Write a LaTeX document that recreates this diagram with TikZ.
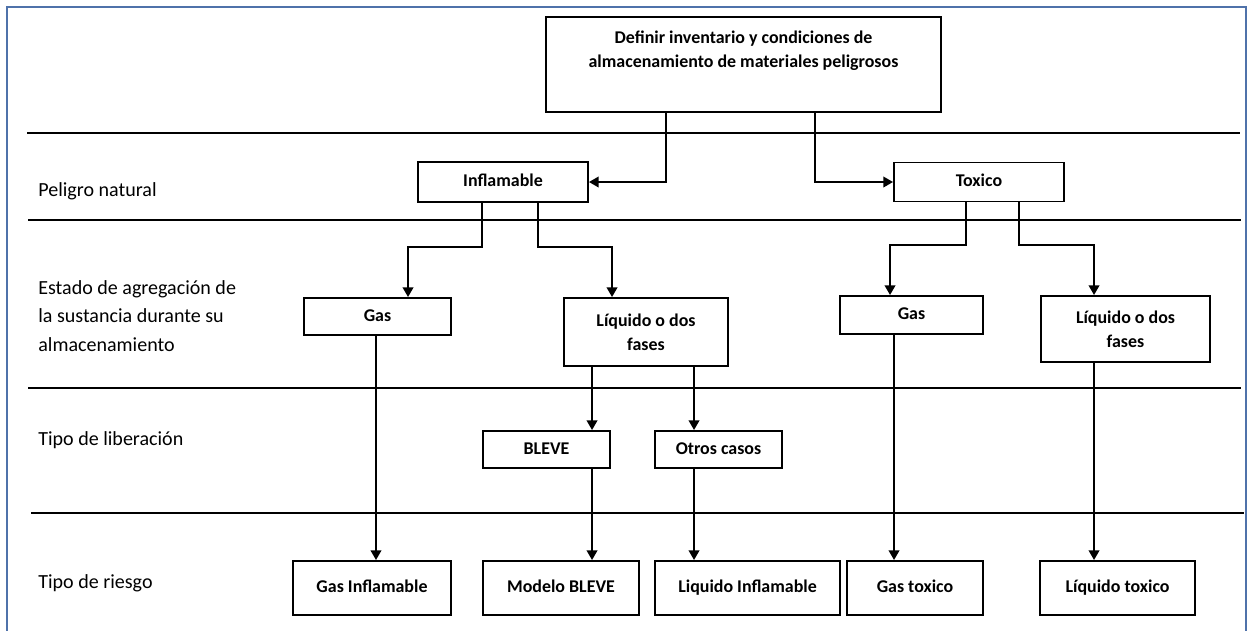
\documentclass[tikz,border=0pt]{standalone}
\usepackage{fontspec}
\setmainfont{Carlito}
\usetikzlibrary{arrows.meta}
\definecolor{marco}{RGB}{79,114,170}

\begin{document}
\begin{tikzpicture}[>={Triangle[length=5.5pt,width=6pt]},
    caja/.style={draw, line width=1.1pt, inner sep=1pt, align=center,
      font=\fontsize{10.2}{13.6}\selectfont\bfseries},
    linea/.style={text height=1.6ex, text depth=0.5ex},
    flecha/.style={->, line width=1.1pt},
    franja/.style={line width=1.1pt},
    etiqueta/.style={anchor=west, align=left, inner sep=0pt,
      font=\fontsize{11.4}{16.2}\selectfont}]
    \useasboundingbox (0,0) rectangle (24.94,-12.6);

    % Marco
    \draw[marco, line width=1.1pt] (0.14,-13) -- (0.14,-0.14) -- (24.92,-0.14) -- (24.92,-13);

    % Franjas
    \draw[franja] (0.54,-2.66) -- (24.80,-2.66);
    \draw[franja] (0.56,-4.40) -- (24.82,-4.40);
    \draw[franja] (0.56,-7.76) -- (24.82,-7.76);
    \draw[franja] (0.62,-10.26) -- (24.88,-10.26);

    % Etiquetas de fila
    \node[etiqueta] (peligro) at (0.76,-3.82) {Peligro natural};
    \node[etiqueta] (estado) at (0.76,-6.32) {Estado de agregación de\\la sustancia durante su\\almacenamiento};
    \node[etiqueta] (liberacion) at (0.76,-8.80) {Tipo de liberación};
    \node[etiqueta] (riesgo) at (0.76,-11.66) {Tipo de riesgo};

    % Cajas
    \node[caja, minimum width=7.9cm, minimum height=1.9cm] (inv) at (14.87,-1.29)
      {Definir inventario y condiciones de\\almacenamiento de materiales peligrosos\\\strut};
    \node[caja, linea, minimum width=3.4cm, minimum height=0.8cm] (infl) at (10.06,-3.64) {Inflamable};
    \node[caja, linea, minimum width=3.4cm, minimum height=0.78cm] (tox) at (19.58,-3.64) {Toxico};
    \node[caja, linea, minimum width=2.94cm, minimum height=0.74cm] (gas1) at (7.55,-6.33) {Gas};
    \node[caja, minimum width=3.28cm, minimum height=1.36cm] (liq1) at (12.92,-6.64) {Líquido o dos\\fases};
    \node[caja, linea, minimum width=2.86cm, minimum height=0.76cm] (gas2) at (18.23,-6.30) {Gas};
    \node[caja, minimum width=3.38cm, minimum height=1.32cm] (liq2) at (22.51,-6.58) {Líquido o dos\\fases};
    \node[caja, linea, minimum width=2.54cm, minimum height=0.74cm] (bleve) at (10.93,-8.99) {BLEVE};
    \node[caja, linea, minimum width=2.54cm, minimum height=0.74cm] (otros) at (14.37,-8.99) {Otros casos};
    \node[caja, linea, minimum width=3.16cm, minimum height=1.08cm] (gasinf) at (7.44,-11.76) {Gas Inflamable};
    \node[caja, linea, minimum width=3.12cm, minimum height=1.08cm] (modb) at (11.22,-11.76) {Modelo BLEVE};
    \node[caja, linea, minimum width=3.70cm, minimum height=1.08cm] (liqinf) at (14.95,-11.76) {Liquido Inflamable};
    \node[caja, linea, minimum width=2.72cm, minimum height=1.08cm] (gastox) at (18.30,-11.76) {Gas toxico};
    \node[caja, linea, minimum width=3.10cm, minimum height=1.08cm] (liqtox) at (22.35,-11.76) {Líquido toxico};

    % Conectores
    \draw[flecha] ([xshift=2.42cm]inv.south west) |- (infl.east);
    \draw[flecha] ([xshift=5.40cm]inv.south west) |- (tox.west);
    \draw[flecha] ([xshift=1.30cm]infl.south west) -- ++(0,-0.88) -| ([xshift=2.10cm]gas1.north west);
    \draw[flecha] ([xshift=2.42cm]infl.south west) -- ++(0,-0.88) -| ([xshift=0.98cm]liq1.north west);
    \draw[flecha] ([xshift=1.46cm]tox.south west) -- ++(0,-0.85) -| ([xshift=1.02cm]gas2.north west);
    \draw[flecha] ([xshift=2.52cm]tox.south west) -- ++(0,-0.85) -| ([xshift=1.08cm]liq2.north west);
    \draw[flecha] ([xshift=-0.03cm]gas1.south) coordinate (g1) -- (g1 |- gasinf.north);
    \draw[flecha] ([xshift=0.58cm]liq1.south west) coordinate (l1a) -- (l1a |- bleve.north);
    \draw[flecha] ([xshift=2.62cm]liq1.south west) coordinate (l1b) -- (l1b |- otros.north);
    \draw[flecha] ([xshift=2.20cm]bleve.south west) coordinate (bl) -- (bl |- modb.north);
    \draw[flecha] ([xshift=0.80cm]otros.south west) coordinate (ot) -- (ot |- liqinf.north);
    \draw[flecha] ([xshift=1.10cm]gas2.south west) coordinate (g2) -- (g2 |- gastox.north);
    \draw[flecha] ([xshift=1.08cm]liq2.south west) coordinate (l2) -- (l2 |- liqtox.north);
\end{tikzpicture}
\end{document}
